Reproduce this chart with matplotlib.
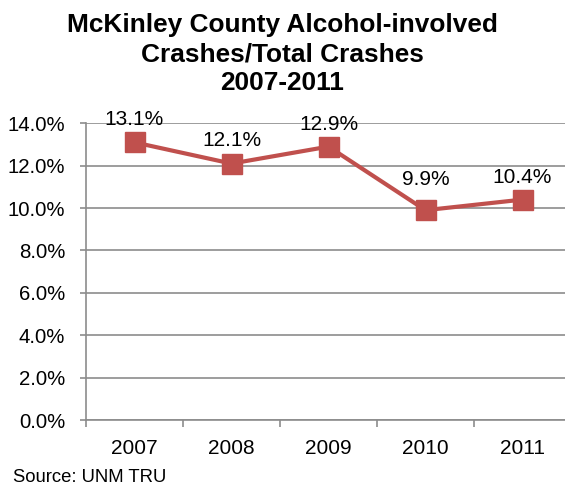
import matplotlib
matplotlib.use("Agg")
import matplotlib.pyplot as plt
from matplotlib.ticker import FuncFormatter, FixedLocator

plt.rcParams['font.family'] = ['Liberation Sans', 'DejaVu Sans']

title_lines = ["McKinley County Alcohol-involved", "Crashes/Total Crashes", "2007-2011"]
years = ["2007", "2008", "2009", "2010", "2011"]
rates = [13.1, 12.1, 12.9, 9.9, 10.4]
value_labels = ["13.1%", "12.1%", "12.9%", "9.9%", "10.4%"]
# vertical gap (points) between each marker and its value label baseline
label_gaps = [12.3, 12.3, 12.3, 18, 12]

W, H = 565, 487
fig = plt.figure(figsize=(W / 100, H / 100), dpi=100)
ax = fig.add_axes([86 / W, 67 / H, 485 / W, 296.7 / H])

x = list(range(len(years)))
ax.plot(x, rates, color="#C0504D", linewidth=3, marker="s", markersize=14,
        markerfacecolor="#C0504D", markeredgecolor="#C0504D", zorder=3,
        clip_on=False)

for xi, v, lab, g in zip(x, rates, value_labels, label_gaps):
    ax.annotate(lab, (xi, v), xytext=(0, g), textcoords="offset points",
                ha="center", va="baseline", fontsize=15, color="#000000",
                zorder=4)

ax.set_xlim(-0.5, len(years) - 0.5)
ax.set_ylim(0, 14)
ax.set_yticks([0, 2, 4, 6, 8, 10, 12, 14])
ax.yaxis.set_major_formatter(FuncFormatter(lambda v, p: f"{v:.1f}%"))
ax.set_xticks(x)
ax.set_xticklabels(years)
ax.xaxis.set_minor_locator(FixedLocator([i - 0.5 for i in range(len(years) + 1)]))

ax.grid(axis="y", color="#8C8C8C", linewidth=1.2)
ax.set_axisbelow(True)
for s in ("top", "right"):
    ax.spines[s].set_visible(False)
for s in ("left", "bottom"):
    ax.spines[s].set_color("#8C8C8C")
    ax.spines[s].set_linewidth(1.2)

ax.tick_params(axis="x", which="major", length=0, labelsize=15, pad=14)
ax.tick_params(axis="x", which="minor", length=5, color="#8C8C8C", width=1.2)
ax.tick_params(axis="y", length=4.5, color="#8C8C8C", width=1.2, labelsize=14.7, pad=10.5)

# three-line bold heading, one baseline per line
for i, line in enumerate(title_lines):
    fig.text(0.5, 1 - (32 + 29 * i) / H, line, ha="center", va="baseline",
             fontsize=18.9, fontweight="bold")

fig.text(13 / W, 1 - 482 / H, "Source: UNM TRU", ha="left", va="baseline", fontsize=13.3)

fig.savefig("out.png", dpi=100)
